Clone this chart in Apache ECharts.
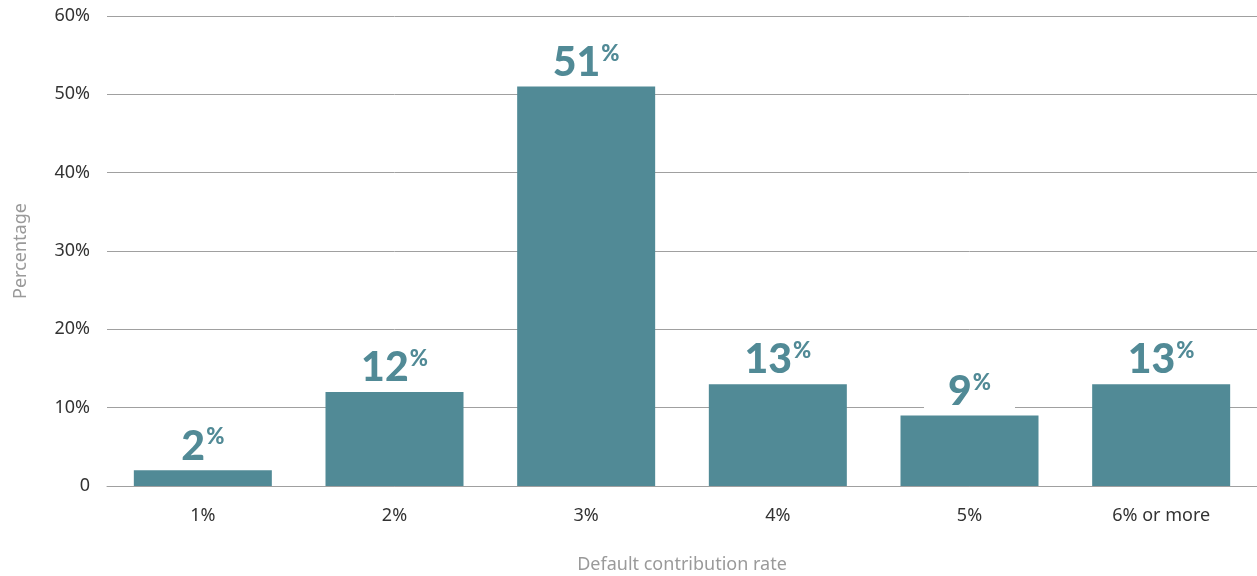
<!DOCTYPE html>
<html><head><meta charset="utf-8">
<script src="https://cdn.jsdelivr.net/npm/echarts@6/dist/echarts.min.js"></script>
<style>html,body{margin:0;padding:0;background:#fff}#c{width:1257px;height:576px}</style>
</head><body><div id="c"></div>
<script>
const categories = ['1%', '2%', '3%', '4%', '5%', '6% or more'];
const values = [2, 12, 51, 13, 9, 13];
const yTicks = [0, 10, 20, 30, 40, 50, 60];

const chart = echarts.init(document.getElementById('c'));
chart.setOption({
  animation: false,
  grid: { left: 107, right: 0, top: 16, bottom: 90, containLabel: false, outerBoundsMode: 'none' },
  xAxis: {
    type: 'category',
    data: categories,
    name: 'Default contribution rate',
    nameLocation: 'middle',
    nameGap: 70,
    nameTextStyle: { color: '#9a9a9a', fontSize: 18, fontFamily: 'Noto Sans' },
    axisLine: { show: true, lineStyle: { color: '#a0a0a0', width: 1 } },
    axisTick: { show: false },
    axisLabel: { color: '#333', fontSize: 18, fontFamily: 'Noto Sans', margin: 21 }
  },
  yAxis: {
    type: 'value',
    min: yTicks[0], max: yTicks[yTicks.length - 1], interval: 10,
    name: 'Percentage',
    nameLocation: 'middle',
    nameGap: 77,
    nameTextStyle: { color: '#9a9a9a', fontSize: 18, fontFamily: 'Noto Sans' },
    axisLine: { show: false },
    axisTick: { show: false },
    axisLabel: { color: '#333', fontSize: 18, fontFamily: 'Noto Sans', margin: 17,
      formatter: v => v === 0 ? '0' : v + '%' },
    splitLine: { lineStyle: { color: '#a0a0a0', width: 1 } }
  },
  series: [{
    type: 'bar',
    data: values,
    barWidth: '72%',
    itemStyle: { color: '#518A96' },
    label: {
      show: true,
      position: 'top',
      distance: 4,
      backgroundColor: '#fff',
      padding: [0, 24, 0, 24],
      formatter: p => '{n|' + p.value + '}{p|%}',
      rich: {
        n: { fontSize: 41, fontWeight: 900, fontFamily: 'Lato', color: '#518A96', lineHeight: 40 },
        p: { fontSize: 22, fontWeight: 900, fontFamily: 'Lato', color: '#518A96', verticalAlign: 'top', lineHeight: 40, padding: [0,0,12,1] }
      }
    }
  }]
});
</script></body></html>
